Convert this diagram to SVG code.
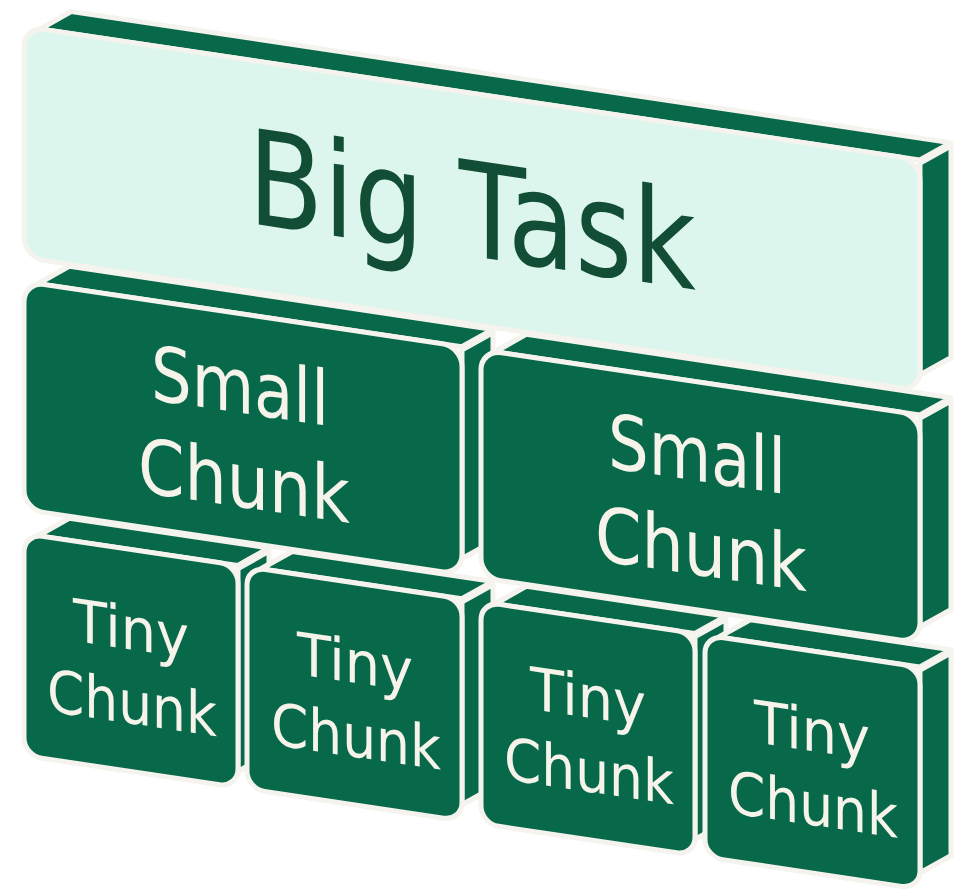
<svg xmlns="http://www.w3.org/2000/svg" width="966" height="893" viewBox="0 0 966 893">
<style>
.dk{fill:#08684a;stroke:#f5f3ee;stroke-width:5;stroke-linejoin:round}
.lt{fill:#dcf5ed;stroke:#f5f3ee;stroke-width:5}
text{font-family:"DejaVu Sans","Liberation Sans",sans-serif;text-anchor:middle;lengthAdjust:spacingAndGlyphs}
.w{fill:#f5f3ea}
.bt{fill:#124d36}
</style>
<rect width="966" height="893" fill="#ffffff"/>
<g transform="matrix(1 0.149 0 1 0 -4.02)">
  <g id="tiny1">
    <polygon class="dk" points="38,534 69,512 269,512 238,534"/>
    <polygon class="dk" points="238,537 269,515 269,718 238,740"/>
    <rect class="dk" x="24" y="534" width="214" height="222" rx="18"/>
    <text class="w" x="131" y="634" font-size="59" textLength="116" lengthAdjust="spacingAndGlyphs">Tiny</text>
    <text class="w" x="132" y="708" font-size="59" textLength="170" lengthAdjust="spacingAndGlyphs">Chunk</text>
  </g>
  <g id="tiny2">
    <polygon class="dk" points="261,534 292,512 493,512 462,534"/>
    <polygon class="dk" points="462,537 493,515 493,718 462,740"/>
    <rect class="dk" x="247" y="534" width="215" height="222" rx="18"/>
    <text class="w" x="355" y="634" font-size="59" textLength="116" lengthAdjust="spacingAndGlyphs">Tiny</text>
    <text class="w" x="356" y="708" font-size="59" textLength="170" lengthAdjust="spacingAndGlyphs">Chunk</text>
  </g>
  <g id="tiny3">
    <polygon class="dk" points="495,534 526,512 726,512 695,534"/>
    <polygon class="dk" points="695,537 726,515 726,718 695,740"/>
    <rect class="dk" x="481" y="534" width="214" height="222" rx="18"/>
    <text class="w" x="588" y="634" font-size="59" textLength="116" lengthAdjust="spacingAndGlyphs">Tiny</text>
    <text class="w" x="589" y="708" font-size="59" textLength="170" lengthAdjust="spacingAndGlyphs">Chunk</text>
  </g>
  <g id="tiny4">
    <polygon class="dk" points="719,534 750,512 951,512 920,534"/>
    <polygon class="dk" points="920,537 951,515 951,718 920,740"/>
    <rect class="dk" x="705" y="534" width="215" height="222" rx="18"/>
    <text class="w" x="812" y="634" font-size="59" textLength="116" lengthAdjust="spacingAndGlyphs">Tiny</text>
    <text class="w" x="813" y="708" font-size="59" textLength="170" lengthAdjust="spacingAndGlyphs">Chunk</text>
  </g>
  <g id="small1">
    <polygon class="dk" points="38,282 69,260 493,260 462,282"/>
    <polygon class="dk" points="462,285 493,263 493,472 462,494"/>
    <rect class="dk" x="24" y="282" width="438" height="228" rx="20"/>
    <text class="w" x="240" y="381" font-size="76" textLength="178" lengthAdjust="spacingAndGlyphs">Small</text>
    <text class="w" x="244" y="475" font-size="76" textLength="212" lengthAdjust="spacingAndGlyphs">Chunk</text>
  </g>
  <g id="small2">
    <polygon class="dk" points="495,282 526,260 951,260 920,282"/>
    <polygon class="dk" points="920,285 951,263 951,472 920,494"/>
    <rect class="dk" x="481" y="282" width="439" height="228" rx="20"/>
    <text class="w" x="697" y="381" font-size="76" textLength="178" lengthAdjust="spacingAndGlyphs">Small</text>
    <text class="w" x="701" y="475" font-size="76" textLength="212" lengthAdjust="spacingAndGlyphs">Chunk</text>
  </g>
  <g id="big">
    <polygon class="dk" points="40,27 71,5 951,5 920,27"/>
    <polygon class="dk" points="920,30 951,8 951,220 920,242"/>
    <rect class="lt" x="24" y="27" width="896" height="231" rx="20"/>
    <text class="bt" x="472" y="190" font-size="132" textLength="448" lengthAdjust="spacingAndGlyphs">Big Task</text>
  </g>
</g>
</svg>
